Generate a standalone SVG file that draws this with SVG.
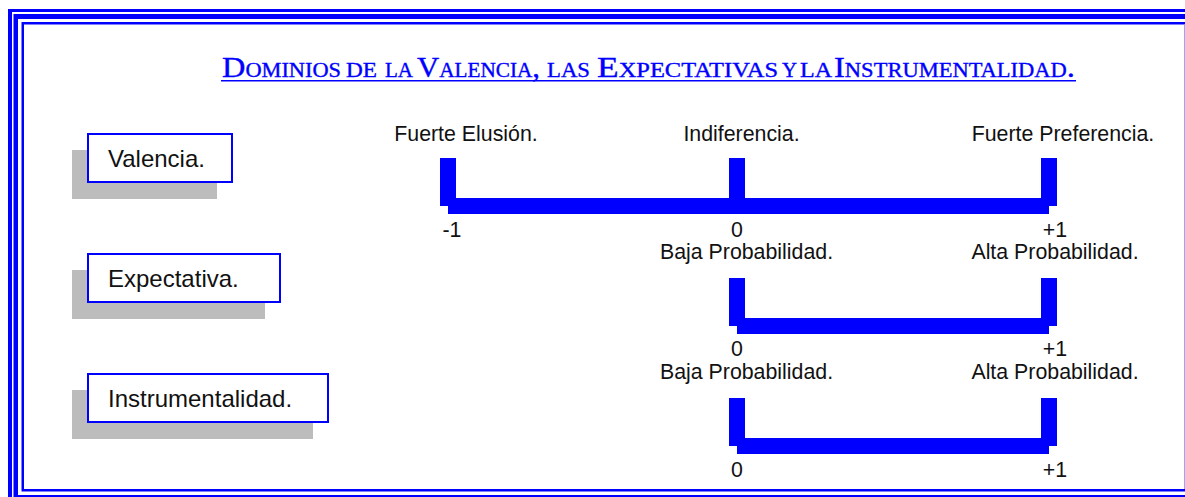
<svg xmlns="http://www.w3.org/2000/svg" width="1185" height="497" viewBox="0 0 1185 497">
<style>
.t{font-family:"Liberation Sans",Arial,sans-serif;font-size:21.33px;fill:#111}
.l{font-size:24px}
.m{text-anchor:middle}
.b{fill:#00f}
.s{fill:#bcbcbc}
.n{fill:#fff;stroke:#00f;stroke-width:2}
.title{font-family:"Liberation Serif",serif;font-size:29px;fill:#00f;stroke:#00f;stroke-width:.35;font-variant:small-caps}
</style>
<rect width="1185" height="497" fill="#fff"/>
<g id="frame">
<path class="b" d="M8 9H1185V12H12V497H8Z"/>
<path class="b" d="M13.500 14H1185V19H18V495H1185V497H13.500Z"/>
<path class="b" d="M21.500 22H1185V24.500H24V489H1185V491.500H21.500Z"/>
<rect x="1184" y="24.500" width="1" height="464.500" fill="#a0a0ff"/>
</g>
<g id="title"><text class="title" y="77"><tspan x="222" textLength="119" lengthAdjust="spacingAndGlyphs">Dominios</tspan> <tspan x="346" textLength="31" lengthAdjust="spacingAndGlyphs">de</tspan> <tspan x="385" textLength="28" lengthAdjust="spacingAndGlyphs">la</tspan> <tspan x="417" textLength="123" lengthAdjust="spacingAndGlyphs">Valencia,</tspan> <tspan x="547" textLength="43" lengthAdjust="spacingAndGlyphs">las</tspan> <tspan x="597" textLength="181" lengthAdjust="spacingAndGlyphs">Expectativas</tspan> <tspan x="782" textLength="15" lengthAdjust="spacingAndGlyphs">y</tspan> <tspan x="800" textLength="32" lengthAdjust="spacingAndGlyphs">la</tspan> <tspan x="834" textLength="241" lengthAdjust="spacingAndGlyphs">Instrumentalidad.</tspan></text>
<rect class="b" x="221" y="80" width="855" height="1.500"/></g>
<g id="node-valencia"><rect class="s" x="72" y="150" width="145" height="49"/><rect class="n" x="88" y="134" width="144" height="48"/><text class="t l" x="108" y="167">Valencia.</text></g>
<g id="node-expectativa"><rect class="s" x="72" y="270" width="193" height="49"/><rect class="n" x="88" y="254" width="192" height="48"/><text class="t l" x="108" y="287">Expectativa.</text></g>
<g id="node-instrumentalidad"><rect class="s" x="72" y="390" width="241" height="49"/><rect class="n" x="88" y="374" width="240" height="48"/><text class="t l" x="108" y="407">Instrumentalidad.</text></g>
<g id="connectors">
<path class="b" d="M440 158H456V198H729V158H745V198H1041V158H1057V206H1049V214H448V206H440Z"/>
<path class="b" d="M729 278H745V318H1041V278H1057V326H1049V334H737V326H729Z"/>
<path class="b" d="M729 398H745V438H1041V398H1057V446H1049V454H737V446H729Z"/>
</g>
<g id="labels">
<text class="t m" x="466" y="140.500">Fuerte Elusión.</text>
<text class="t m" x="741.500" y="140.500">Indiferencia.</text>
<text class="t m" x="1063" y="140.500">Fuerte Preferencia.</text>
<text class="t m" x="452" y="236.500">-1</text>
<text class="t m" x="737" y="236.500">0</text>
<text class="t m" x="1055" y="236.500">+1</text>
<text class="t m" x="746.500" y="258.500">Baja Probabilidad.</text>
<text class="t m" x="1055" y="258.500">Alta Probabilidad.</text>
<text class="t m" x="737" y="355.500">0</text>
<text class="t m" x="1055" y="355.500">+1</text>
<text class="t m" x="746.500" y="378.500">Baja Probabilidad.</text>
<text class="t m" x="1055" y="378.500">Alta Probabilidad.</text>
<text class="t m" x="737" y="476.500">0</text>
<text class="t m" x="1055" y="476.500">+1</text>
</g>
</svg>
